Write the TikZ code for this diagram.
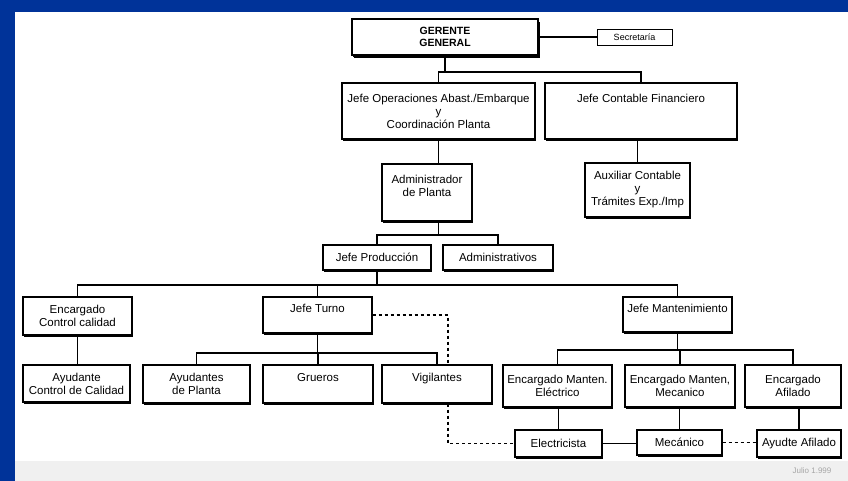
\documentclass[tikz,border=0pt]{standalone}
\usepackage{fontspec}
\setmainfont{Liberation Sans}
\usepackage{xcolor}
\usetikzlibrary{shadows}
\definecolor{fondo}{RGB}{0,51,153}

\begin{document}
\begin{tikzpicture}[x=1pt,y=-1pt]
 \tikzstyle{cargo}=[draw, line width=1.4pt, fill=white, align=center,
                    inner sep=1pt, font=\fontsize{11.5}{13}\selectfont,
                    drop shadow={shadow xshift=1pt, shadow yshift=-2pt,
                                 fill=black, opacity=1}]
 \tikzstyle{linea}=[line width=1.8pt]

        \useasboundingbox (0,0) rectangle (848,481);
        \fill[fondo] (0,0) rectangle (848,481);
        \fill[white] (15,12) rectangle (848,481);
        \fill[black!6] (15,461) rectangle (848,481);
        \node[text=black!35, font=\fontsize{8}{9}\selectfont] (FECHA) at (812,471) {Julio 1.999};

        % niveles de las barras
        \coordinate (N1) at (0,72);
        \coordinate (N2) at (0,235);
        \coordinate (N3) at (0,285);
        \coordinate (N4) at (0,353);
        \coordinate (N5) at (0,350);
        \coordinate (D1) at (448,0);

        \node[cargo, minimum width=186pt, minimum height=36pt,
              font=\bfseries\fontsize{10.5}{12.5}\selectfont,
              drop shadow={shadow xshift=2.2pt, shadow yshift=-3pt, fill=black, opacity=1}]
              (GG) at (445,37) {GERENTE\\GENERAL};
        \node[draw, line width=0.8pt, fill=white, minimum width=75pt, minimum height=16pt,
              inner sep=1pt, font=\fontsize{9}{10}\selectfont] (SEC) at (634.5,37) {Secretaría};

        \node[cargo, minimum width=193pt, minimum height=56pt] (JO) at (438.5,111)
              {Jefe Operaciones Abast./Embarque\\y\\Coordinación Planta};
        \node[cargo, minimum width=192pt, minimum height=56pt] (JC) at (641,111)
              {Jefe Contable Financiero\\\mbox{}\\\mbox{}};
        \node[cargo, minimum width=90pt, minimum height=57pt] (AP) at (427,192.5)
              {Administrador\\de Planta\\\mbox{}};
        \node[cargo, minimum width=105pt, minimum height=54pt] (AC) at (637.5,190)
              {Auxiliar Contable\\y\\Trámites Exp./Imp};
        \node[cargo, minimum width=108pt, minimum height=25pt] (JP) at (377,257.5) {Jefe Producción};
        \node[cargo, minimum width=110pt, minimum height=25pt] (AD) at (498,257.5) {Administrativos};

        \node[cargo, minimum width=109pt, minimum height=38pt] (ECC) at (77.5,316) {Encargado\\Control calidad};
        \node[cargo, minimum width=109pt, minimum height=36pt] (JT) at (317.5,315) {Jefe Turno\\\mbox{}};
        \node[cargo, minimum width=109pt, minimum height=35pt] (JM) at (677.5,314.5) {Jefe Mantenimiento\\\mbox{}};

        \node[cargo, minimum width=107pt, minimum height=37pt] (ACC) at (76.5,383.5) {Ayudante\\Control de Calidad};
        \node[cargo, minimum width=107pt, minimum height=38pt] (AYP) at (196.5,384) {Ayudantes\\de Planta};
        \node[cargo, minimum width=110pt, minimum height=38pt] (GR) at (318,384) {Grueros\\\mbox{}};
        \node[cargo, minimum width=110pt, minimum height=38pt] (VI) at (437,384) {Vigilantes\\\mbox{}};
        \node[cargo, minimum width=109pt, minimum height=42pt] (EME) at (557.5,386) {Encargado Manten.\\Eléctrico};
        \node[cargo, minimum width=110pt, minimum height=42pt] (EMM) at (680,386) {Encargado Manten,\\Mecanico};
        \node[cargo, minimum width=96pt, minimum height=42pt] (EAF) at (793,386) {Encargado\\Afilado};

        \node[cargo, minimum width=87pt, minimum height=27pt] (EL) at (558.5,443.5) {Electricista};
        \node[cargo, minimum width=85pt, minimum height=25pt] (ME) at (679.5,442.5) {Mecánico};
        \node[cargo, minimum width=84pt, minimum height=27pt] (AA) at (799,443.5) {Ayudte Afilado};

        \draw[linea] (GG.east) -- (SEC.west);
        \draw[linea] (GG.south) -- (GG.south |- N1);
        \draw[linea] (JO.north) |- (JC.north |- N1) -- (JC.north);
        \draw[linea] (JO.south) -- (JO.south |- AP.north);
        \draw[linea] (AC.north |- JC.south) -- (AC.north);

        \draw[linea] (JO.south |- AP.south) -- (JO.south |- N2);
        \draw[linea] (JP.north) |- (AD.north |- N2) -- (AD.north);
        \draw[linea] (JP.south) -- (JP.south |- N3);
        \draw[linea] (ECC.north) |- (JM.north |- N3) -- (JM.north);
        \draw[linea] (JT.north |- N3) -- (JT.north);

        \draw[linea] (ECC.south) -- (ECC.south |- ACC.north);
        \draw[linea] (JT.south) -- (JT.south |- N4);
        \draw[linea] (AYP.north) |- (VI.north |- N4) -- (VI.north);
        \draw[linea] (GR.north |- N4) -- (GR.north);
        \draw[linea, dashed] (JT.east) -| (VI.north -| D1);
        \draw[linea, dashed] (VI.south -| D1) |- (EL.west);

        \draw[linea] (JM.south) -- (JM.south |- N5);
        \draw[linea] (EME.north) |- (EAF.north |- N5) -- (EAF.north);
        \draw[linea] (EMM.north |- N5) -- (EMM.north);
        \draw[linea] (EL.north |- EME.south) -- (EL.north);
        \draw[linea] (ME.north |- EMM.south) -- (ME.north);
        \draw[linea] (AA.north |- EAF.south) -- (AA.north);
        \draw[linea] (EL.east) -- (EL.east -| ME.west);
        \draw[linea, dashed] (ME.east) -- (ME.east -| AA.west);

\end{tikzpicture}
\end{document}
